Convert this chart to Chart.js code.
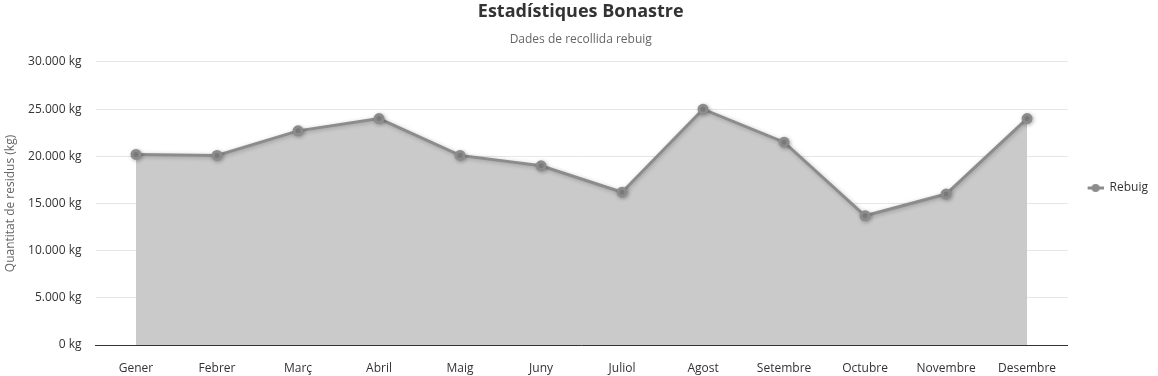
<!DOCTYPE html>
<html><head><meta charset="utf-8">
<script src="https://cdn.jsdelivr.net/npm/chart.js@4.4.0/dist/chart.umd.min.js"></script>
<style>html,body{margin:0;padding:0;background:#fff}#wrap{width:1158px;height:376px;position:relative}</style>
</head><body><div id="wrap"><canvas id="c" width="1158" height="376"></canvas></div>
<script>
const categories = ["Gener","Febrer","Març","Abril","Maig","Juny","Juliol","Agost","Setembre","Octubre","Novembre","Desembre"];
const rebuig = [20200,20100,22700,24000,20100,19000,16200,25000,21500,13700,16000,24000];
const yTicks = [0,5000,10000,15000,20000,25000,30000];
const seriesName = "Rebuig";
const titleText = "Estadístiques Bonastre";
const subtitleText = "Dades de recollida rebuig";
const yTitle = "Quantitat de residus (kg)";

const FONT = "'Open Sans', 'Noto Sans', sans-serif";
Chart.defaults.font.family = FONT;

// legend icon: line with circle, drawn on the right part of a wider box
const icon = document.createElement('canvas');
icon.width = 26; icon.height = 10;
{ const g = icon.getContext('2d');
  g.strokeStyle = '#8c8c8c'; g.lineWidth = 3;
  g.beginPath(); g.moveTo(10,5); g.lineTo(26,5); g.stroke();
  g.fillStyle = '#8c8c8c'; g.beginPath(); g.arc(18,5,4,0,Math.PI*2); g.fill(); }

const shadowPlugin = {
  id: 'shadow',
  beforeDatasetDraw(chart){ const c = chart.ctx; c.save(); c.shadowColor='rgba(0,0,0,0.25)'; c.shadowBlur=4; c.shadowOffsetX=1; c.shadowOffsetY=1; },
  afterDatasetDraw(chart){ chart.ctx.restore(); }
};
const fmt = v => v.toLocaleString('de-DE') + ' kg';

new Chart(document.getElementById('c'), {
  type: 'line',
  data: { labels: categories, datasets: [{
    label: seriesName, data: rebuig,
    borderColor: '#8c8c8c', backgroundColor: '#cacaca',
    pointBackgroundColor: '#8c8c8c', pointBorderColor: '#8c8c8c',
    borderWidth: 3, pointRadius: 4, pointHoverRadius: 5, fill: 'origin', tension: 0
  }]},
  options: {
    responsive: false, animation: false, maintainAspectRatio: false,
    layout: { padding: { left: 3.5, right: 0, top: 0, bottom: 0 } },
    plugins: {
      filler: { drawTime: 'beforeDatasetsDraw' },
      title: { display: true, text: titleText, color: '#333', font: { size: 18, weight: 'bold' }, padding: { top: 1, bottom: 10 } },
      subtitle: { display: true, text: subtitleText, color: '#666', font: { size: 12 }, padding: { top: 0, bottom: 15 } },
      legend: { position: 'right', align: 'center',
        labels: { color: '#333', font: { size: 12 }, usePointStyle: true, pointStyleWidth: 26, boxWidth: 26, padding: 10,
          generateLabels: (chart) => [{ text: seriesName, pointStyle: icon, fillStyle: '#8c8c8c', strokeStyle: '#8c8c8c', lineWidth: 0, datasetIndex: 0, fontColor: '#333' }] } },
      tooltip: { enabled: false }
    },
    scales: {
      x: { offset: true, grid: { display: false, drawTicks: false },
        border: { display: true, color: '#333', width: 1 },
        afterFit: (s) => { s.height = 31; },
        ticks: { color: '#333', font: { size: 12 }, padding: 16, maxRotation: 0, autoSkip: false } },
      y: { min: 0, max: 30000, afterBuildTicks: (ax) => { ax.ticks = yTicks.map(v => ({ value: v })); },
        afterFit: (s) => { s.width = 92; },
        grid: { color: '#e6e6e6', drawTicks: false }, border: { display: false },
        ticks: { color: '#333', font: { size: 12 }, padding: 14, callback: (v) => fmt(v) },
        title: { display: true, text: yTitle, color: '#666', font: { size: 12 }, padding: { top: 0, bottom: 4 } } }
    }
  },
  plugins: [shadowPlugin]
});
</script></body></html>
